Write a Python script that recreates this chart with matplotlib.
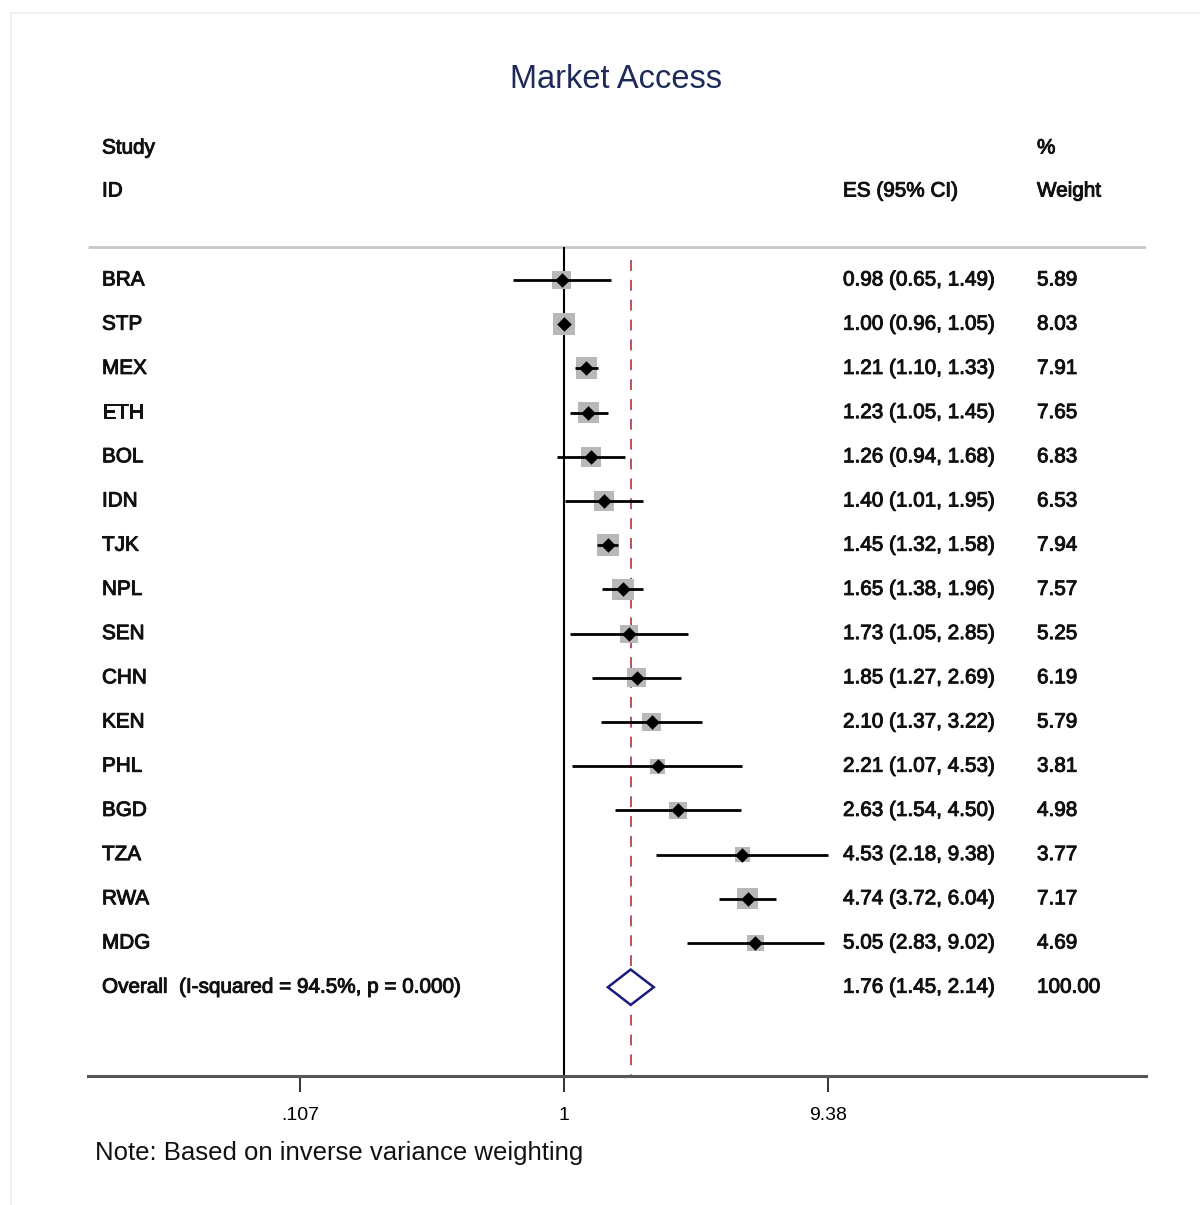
import matplotlib
matplotlib.use("Agg")
import matplotlib.pyplot as plt
import matplotlib.patheffects as pe
import numpy as np

plt.rcParams["font.family"] = ["Liberation Sans", "DejaVu Sans"]

studies = ["BRA", "STP", "MEX", "ETH", "BOL", "IDN", "TJK", "NPL", "SEN",
           "CHN", "KEN", "PHL", "BGD", "TZA", "RWA", "MDG"]
es = [0.98, 1.00, 1.21, 1.23, 1.26, 1.40, 1.45, 1.65, 1.73, 1.85, 2.10,
      2.21, 2.63, 4.53, 4.74, 5.05]
lo = [0.65, 0.96, 1.10, 1.05, 0.94, 1.01, 1.32, 1.38, 1.05, 1.27, 1.37,
      1.07, 1.54, 2.18, 3.72, 2.83]
hi = [1.49, 1.05, 1.33, 1.45, 1.68, 1.95, 1.58, 1.96, 2.85, 2.69, 3.22,
      4.53, 4.50, 9.38, 6.04, 9.02]
weights = [5.89, 8.03, 7.91, 7.65, 6.83, 6.53, 7.94, 7.57, 5.25, 6.19,
           5.79, 3.81, 4.98, 3.77, 7.17, 4.69]
overall_es, overall_lo, overall_hi = 1.76, 1.45, 2.14
overall_label = "Overall  (I-squared = 94.5%, p = 0.000)"
xticks = [0.107, 1, 9.38]
xtick_labels = [".107", "1", "9.38"]

INK = "#111111"
W, H = 1200, 1205
fig = plt.figure(figsize=(W / 100, H / 100), dpi=100)
fig.patch.set_facecolor("white")

# axes spans the full table width (px 88..1146, 130..1076)
ax = fig.add_axes([88 / W, 1 - 1076 / H, (1146 - 88) / W, (1076 - 130) / H])
ax.set_xscale("log")
ax.set_xlim(np.exp(-476 / 118), np.exp(582 / 118))
ybot = 1 + (1076 - 280) / 44.2
ax.set_ylim(ybot, 1 + (130 - 280) / 44.2)

rows = np.arange(1, len(studies) + 1)
orow = len(studies) + 1
ytop = 1 + (247 - 280) / 44.2

# reference lines
ax.vlines(1, ytop, ybot, color="black", lw=1.5, zorder=2)
ax.vlines(overall_es, 0.55, ybot, color="#b5434f", lw=1.3,
          linestyles=(0, (6, 5)), zorder=2)
ax.hlines(ytop, *ax.get_xlim(), color="#c8c8c8", lw=2.0, zorder=1)

# weight boxes, CIs, point estimates
ax.scatter(es, rows, s=[31.4 * w for w in weights], marker="s",
           color="#b8b8b8", linewidths=0, zorder=3)
ax.hlines(rows, lo, hi, color="black", lw=2.0, zorder=4)
ax.scatter(es, rows, s=55, marker="D", color="black", linewidths=0, zorder=5)

# overall diamond
ax.fill([overall_lo, overall_es, overall_hi, overall_es],
        [orow, orow - 0.4, orow, orow + 0.4],
        facecolor="white", edgecolor="#1c1c80", lw=1.8, zorder=6)

# table text
tr = ax.get_yaxis_transform()
X_ID, X_ES, X_W = (102 - 88) / 1058, (843 - 88) / 1058, (1037 - 88) / 1058
fs = 14.9
thick = [pe.withStroke(linewidth=0.7, foreground=INK)]
kw = dict(transform=tr, fontsize=fs, color=INK, va="center", ha="left",
          path_effects=thick)
ax.text(X_ID, 1 + (148 - 280) / 44.2, "Study", **kw)
ax.text(X_ID, 1 + (191 - 280) / 44.2, "ID", **kw)
ax.text(X_ES, 1 + (191 - 280) / 44.2, "ES (95% CI)", **kw)
ax.text(X_W, 1 + (148 - 280) / 44.2, "%", **kw)
ax.text(X_W, 1 + (191 - 280) / 44.2, "Weight", **kw)
for r, s, e, l, h, w in zip(rows, studies, es, lo, hi, weights):
    ax.text(X_ID, r, s, **kw)
    ax.text(X_ES, r, f"{e:.2f} ({l:.2f}, {h:.2f})", **kw)
    ax.text(X_W, r, f"{w:.2f}", **kw)
ax.text(X_ID, orow, overall_label, **kw)
ax.text(X_ES, orow, f"{overall_es:.2f} ({overall_lo:.2f}, {overall_hi:.2f})", **kw)
ax.text(X_W, orow, "100.00", **kw)

# axis styling
for side in ["top", "right", "left"]:
    ax.spines[side].set_visible(False)
ax.spines["bottom"].set_color("#555555")
ax.spines["bottom"].set_linewidth(2.2)
ax.set_yticks([])
ax.set_xticks(xticks)
ax.set_xticklabels(xtick_labels, fontsize=14)
ax.xaxis.set_minor_locator(matplotlib.ticker.NullLocator())
ax.tick_params(axis="x", length=11.5, width=1.4, color="#333333", pad=10.5)

fig.text(616 / W, 1 - 80 / H, "Market Access", fontsize=23.5, color="#1e2a5a",
         ha="center", va="center")
fig.text(95 / W, 1 - 1153 / H, "Note: Based on inverse variance weighting",
         fontsize=18.5, color=INK, ha="left", va="center")

# faint outer frame
fig.add_artist(plt.Line2D([11 / W, 11 / W], [0, 1 - 13 / H],
                          transform=fig.transFigure, color="#f0f0f0", lw=1.5))
fig.add_artist(plt.Line2D([11 / W, 1], [1 - 13 / H, 1 - 13 / H],
                          transform=fig.transFigure, color="#f0f0f0", lw=1.5))

fig.savefig("out.png", dpi=100, facecolor="white")
